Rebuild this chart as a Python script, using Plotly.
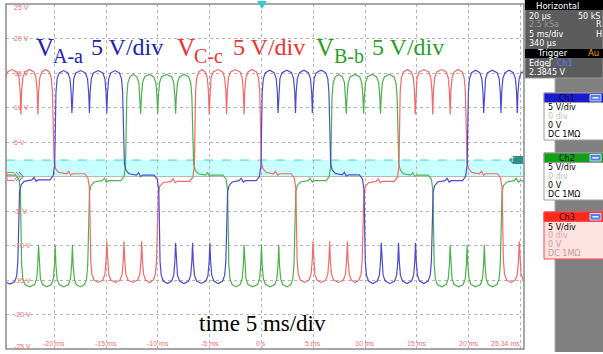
import plotly.graph_objects as go

# ---------------- data (time in ms, voltage in V) ----------------
X_RANGE = [-24.66, 25.34]
Y_RANGE = [-25, 25]
TRIG_LEVEL = 2.3845

# Phase A-a (blue)
blue_seg_start = [-30.0, -23.45, -19.91, -13.33, -9.86, -3.37, 0.00, 6.58, 9.95, 16.47, 19.90]
blue_seg_state = ["L", "ZL", "H", "ZH", "L", "ZL", "H", "ZH", "L", "ZL", "H"]
blue_seg_level = [-15.6, -0.5, 15.35, 0.2, -15.5, -0.6, 15.4, 0.25, -15.5, -0.6, 15.4]
blue_seg_notch = [[-28.4, -26.8, -25.1], [], [-18.30, -16.61, -14.93], [], [-8.29, -6.65, -4.98], [],
                  [1.60, 3.28, 4.91], [], [11.56, 13.23, 14.87], [], [21.45, 23.12, 24.69]]
blue_end = 26.6
blue_notch_hi, blue_notch_lo = 9.2, -9.6

# Phase B-b (green)
green_seg_start = [-27.0, -23.22, -16.70, -13.07, -6.65, -3.22, 3.21, 6.74, 13.16, 16.60, 23.12]
green_seg_state = ["ZH", "L", "ZL", "H", "ZH", "L", "ZL", "H", "ZH", "L", "ZL"]
green_seg_level = [0.2, -16.0, -0.6, 14.8, 0.2, -16.0, -0.6, 14.8, 0.2, -16.0, -0.6]
green_seg_notch = [[], [-21.52, -19.91, -18.25], [], [-11.66, -10.02, -8.29], [], [-1.68, 0.00, 1.67], [],
                   [8.19, 9.86, 11.49], [], [18.21, 19.85, 21.51], []]
green_end = 26.6
green_notch_hi, green_notch_lo = 9.1, -9.9

# Phase C-c (red)
red_seg_start = [-26.7, -20.11, -16.55, -10.06, -6.43, -0.10, 3.37, 9.79, 13.32, 19.75, 23.28]
red_seg_state = ["H", "ZH", "L", "ZL", "H", "ZH", "L", "ZL", "H", "ZH", "L"]
red_seg_level = [15.5, 0.4, -15.35, -0.7, 15.5, 0.4, -15.35, -0.7, 15.5, 0.4, -15.35]
red_seg_notch = [[-24.9, -23.22, -21.58], [], [-14.93, -13.27, -11.56], [], [-5.05, -3.37, -1.68], [],
                 [4.97, 6.58, 8.29], [], [14.84, 16.53, 18.21], [], [24.88]]
red_end = 29.8
red_notch_hi, red_notch_lo = 9.0, -9.4

y_tick_vals = [25, 20, 15, 10, 5, -5, -10, -15, -20, -25]
y_tick_text = ["25 V", "20 V", "15 V", "10 V", "5 V", "-5 V", "-10 V", "-15 V", "-20 V", "-25 V"]
x_tick_vals = [-20, -15, -10, -5, 0, 5, 10, 15, 20]
x_tick_text = ["-20 ms", "-15 ms", "-10 ms", "-5 ms", "0 s", "5 ms", "10 ms", "15 ms", "20 ms"]
x_end_text = "25.34 ms"

# ---------------- geometry / style ----------------
W, H = 603, 354
L_PX, R_PX, T_PX, B_PX = 6, 524, 4, 349
BLUE, GREEN, RED = "#4b4bd2", "#4db24d", "#f46a6a"
TBLUE, TGREEN, TRED = "#2222b4", "#2a9f2a", "#f23030"
LBL = "#ff6a6a"


def xp(px):
    return (px - L_PX) / (R_PX - L_PX)


def yp(py):
    return (B_PX - py) / (B_PX - T_PX)


def build(starts, states, levels, notches, end, n_hi, n_lo):
    ts, vs = [], []

    def add(t, v):
        ts.append(t)
        vs.append(v)

    n = len(starts)
    for i in range(n):
        a = starts[i]
        b = starts[i + 1] if i + 1 < n else end
        st, lv = states[i], levels[i]
        if st in ("H", "L"):
            s_ = 1 if st == "H" else -1
            dip = n_hi if st == "H" else n_lo
            bounds = [a] + list(notches[i]) + [b]
            for k in range(len(bounds) - 1):
                s, e = bounds[k], bounds[k + 1]
                add(s + 0.07, lv - s_ * 3.2)
                add(s + 0.18, lv - s_ * 1.2)
                add(s + 0.38, lv - s_ * 0.35)
                add((s + e) / 2, lv)
                add(e - 0.38, lv - s_ * 0.35)
                add(e - 0.18, lv - s_ * 1.2)
                add(e - 0.07, lv - s_ * 3.2)
                if k < len(bounds) - 2:
                    add(e, dip)
        else:
            s_ = 1 if st == "ZH" else -1
            add(a + 0.03, lv + s_ * 3.5)
            add(a + 0.10, lv + s_ * 1.6)
            add(a + 0.25, lv + s_ * 0.7)
            add(a + 0.55, lv + s_ * 0.2)
            m = a + 0.45 * (b - a)
            add(m - 0.3, lv)
            add(m - 0.1, lv + 0.35)
            add(m + 0.1, lv - 0.2)
            add(m + 0.3, lv)
            add(b - 0.5, lv)
            add(b - 0.2, lv - s_ * 0.6)
            add(b - 0.05, lv - s_ * 2.2)
    return ts, vs


fig = go.Figure()
for name, col, args in [
    ("V B-b", GREEN, (green_seg_start, green_seg_state, green_seg_level, green_seg_notch, green_end, green_notch_hi, green_notch_lo)),
    ("V C-c", RED, (red_seg_start, red_seg_state, red_seg_level, red_seg_notch, red_end, red_notch_hi, red_notch_lo)),
    ("V A-a", BLUE, (blue_seg_start, blue_seg_state, blue_seg_level, blue_seg_notch, blue_end, blue_notch_hi, blue_notch_lo)),
]:
    t, v = build(*args)
    fig.add_trace(go.Scatter(x=t, y=v, mode="lines", name=name,
                             line=dict(color=col, width=1.2), hoverinfo="skip"))

shapes = []
ann = []

# trigger band and level line
shapes.append(dict(type="rect", xref="x", yref="y", x0=X_RANGE[0], x1=X_RANGE[1], y0=0, y1=TRIG_LEVEL,
                   fillcolor="#c8ffff", line=dict(width=0), layer="below"))
shapes.append(dict(type="line", xref="x", yref="y", x0=X_RANGE[0], x1=X_RANGE[1], y0=TRIG_LEVEL, y1=TRIG_LEVEL,
                   line=dict(color="#3cd4e6", width=1, dash="dash"), layer="below"))
# frame
shapes.append(dict(type="rect", xref="paper", yref="paper", x0=0, x1=1, y0=0, y1=1,
                   line=dict(color="#8a8a8a", width=1.5)))
# top trigger position marker
shapes.append(dict(type="path", xref="paper", yref="paper",
                   path=f"M {xp(257)},{yp(1)} L {xp(267)},{yp(1)} L {xp(262)},{yp(9)} Z",
                   fillcolor="#38c8e0", line=dict(width=0)))
# right trigger level marker
shapes.append(dict(type="path", xref="paper", yref="paper",
                   path=f"M {xp(523)},{yp(156)} L {xp(513)},{yp(156)} L {xp(509)},{yp(160)} L {xp(513)},{yp(164)} L {xp(523)},{yp(164)} Z",
                   fillcolor="#2f8f8f", line=dict(width=0)))
ann.append(dict(x=xp(517), y=yp(160), xref="paper", yref="paper", text="T", showarrow=False,
                font=dict(family="DejaVu Sans", size=7, color="white")))
# channel ground markers (left)
shapes.append(dict(type="path", xref="paper", yref="paper",
                   path=f"M {xp(7)},{yp(172.5)} L {xp(14)},{yp(172.5)} L {xp(17)},{yp(176.5)} L {xp(14)},{yp(180.5)} L {xp(7)},{yp(180.5)} Z",
                   fillcolor="rgba(0,0,0,0)", line=dict(color=RED, width=1)))
shapes.append(dict(type="path", xref="paper", yref="paper",
                   path=f"M {xp(16)},{yp(172)} L {xp(20)},{yp(176.5)} L {xp(16)},{yp(181)}",
                   line=dict(color=GREEN, width=1)))
shapes.append(dict(type="path", xref="paper", yref="paper",
                   path=f"M {xp(19)},{yp(172)} L {xp(23)},{yp(176.5)} L {xp(19)},{yp(181)}",
                   line=dict(color=BLUE, width=1)))

# axis labels inside the graticule
for v, s in zip(y_tick_vals, y_tick_text):
    shift = -3 if v == 25 else (3 if v == -25 else 0)
    ann.append(dict(x=xp(12), y=v, xref="paper", yref="y", text=s, showarrow=False, xanchor="left",
                    yanchor="middle", yshift=shift, font=dict(family="Liberation Sans", size=7, color=LBL)))
for v, s in zip(x_tick_vals, x_tick_text):
    ann.append(dict(x=v, y=yp(343), xref="x", yref="paper", text=s, showarrow=False, xanchor="center",
                    yanchor="middle", font=dict(family="Liberation Sans", size=7, color=LBL)))
ann.append(dict(x=xp(522), y=yp(343), xref="paper", yref="paper", text=x_end_text, showarrow=False,
                xanchor="right", yanchor="middle", font=dict(family="Liberation Sans", size=7, color=LBL)))

# big serif labels
SERIF = "Liberation Serif"
for (xv, xs, xd, sub, col) in [(34, 51, 89, "A-a", TBLUE), (175, 192, 231, "C-c", TRED), (314, 332, 370, "B-b", TGREEN)]:
    ann.append(dict(x=xp(xv), y=yp(47), xref="paper", yref="paper", text="V", showarrow=False,
                    xanchor="left", yanchor="middle", font=dict(family=SERIF, size=25, color=col)))
    ann.append(dict(x=xp(xs), y=yp(56), xref="paper", yref="paper", text=sub, showarrow=False,
                    xanchor="left", yanchor="middle", font=dict(family=SERIF, size=20, color=col)))
    ann.append(dict(x=xp(xd), y=yp(47), xref="paper", yref="paper", text="5 V/div", showarrow=False,
                    xanchor="left", yanchor="middle", font=dict(family=SERIF, size=24, color=col)))
ann.append(dict(x=xp(197), y=yp(323), xref="paper", yref="paper", text="time 5 ms/div", showarrow=False,
                xanchor="left", yanchor="middle", font=dict(family=SERIF, size=23, color="black")))

# ---------------- right-hand instrument panel ----------------
SANS = "DejaVu Sans"


def rect(x0, y0, x1, y1, fill, line=None, lw=0):
    shapes.append(dict(type="rect", xref="paper", yref="paper", x0=xp(x0), x1=xp(x1), y0=yp(y1), y1=yp(y0),
                       fillcolor=fill, line=dict(color=line or fill, width=lw)))


def txt(x, y, s, color="white", size=8, anchor="left"):
    ann.append(dict(x=xp(x), y=yp(y), xref="paper", yref="paper", text=s, showarrow=False,
                    xanchor=anchor, yanchor="middle", font=dict(family=SANS, size=size, color=color)))


rect(555, 78, 603, 352, "#808080")
shapes.append(dict(type="line", xref="paper", yref="paper", x0=xp(555), x1=xp(555), y0=yp(352), y1=yp(78),
                   line=dict(color="#a8a8a8", width=1)))
# Horizontal box
rect(525, 0, 603, 78, "#5c5c5c", "#9a9a9a", 1)
rect(525, 0, 603, 10, "#000000")
txt(557, 6, "Horizontal", size=8.5, anchor="center")
txt(576, 16, "50 kS")
txt(527, 16, "20 µs")
txt(527, 25, "2.5 kSa", color="#9a9a9a")
txt(594, 25, "R")
txt(527, 34, "5 ms/div")
txt(594, 34, "H")
txt(527, 43, "340 µs")
rect(525, 49, 603, 58, "#000000")
txt(552, 53.5, "Trigger", size=8.5, anchor="center")
txt(601, 53.5, "Au", color="#f0a000", size=8.5, anchor="right")
txt(527, 63, "Edge")
shapes.append(dict(type="path", xref="paper", yref="paper",
                   path=f"M {xp(547)},{yp(66)} L {xp(550)},{yp(66)} L {xp(550)},{yp(59)} L {xp(553)},{yp(59)}",
                   line=dict(color="white", width=1)))
txt(555, 63, "Ch1", color="#5a78ff")
txt(527, 72, "2.3845 V")

# channel boxes
for (y0, hdr, body, border, name, cols) in [
    (93, "#1a1ad0", "#ffffff", "#9a9a9a", "Ch1", ["#000000", "#c0c0c0", "#000000", "#000000"]),
    (153, "#14a014", "#ffffff", "#9a9a9a", "Ch2", ["#000000", "#c0c0c0", "#000000", "#000000"]),
    (212, "#ff2a1e", "#ffe2e2", "#ff4a4a", "Ch3", ["#000000", "#d8a8a8", "#c89a9a", "#c89a9a"]),
]:
    rect(544, y0, 604, y0 + 47, body, border, 1)
    rect(544, y0, 604, y0 + 9.5, hdr, border, 1)
    txt(567, y0 + 5, name, color="#101010", size=8, anchor="center")
    rect(590, y0 + 1.5, 601, y0 + 8, "#4d7fe8", "#c8d8ff", 1)
    shapes.append(dict(type="line", xref="paper", yref="paper", x0=xp(592.5), x1=xp(598.5),
                       y0=yp(y0 + 4.8), y1=yp(y0 + 4.8), line=dict(color="white", width=1.5)))
    for k, s in enumerate(["5 V/div", "0 div", "0 V", "DC 1MΩ"]):
        txt(546, y0 + 15 + 8.8 * k, s, color=cols[k])

fig.update_layout(
    width=W, height=H,
    margin=dict(l=L_PX, r=W - R_PX, t=T_PX, b=H - B_PX, pad=0),
    paper_bgcolor="white", plot_bgcolor="white",
    showlegend=False,
    xaxis=dict(range=X_RANGE, tick0=0, dtick=5, showgrid=True, gridcolor="#b4b4b4", griddash="dot",
               gridwidth=1, zeroline=False, showticklabels=False, ticks="", showline=False, fixedrange=True),
    yaxis=dict(range=Y_RANGE, tick0=0, dtick=5, showgrid=True, gridcolor="#b4b4b4", griddash="dot",
               gridwidth=1, zeroline=True, zerolinecolor="#b8b8b8", zerolinewidth=1,
               showticklabels=False, ticks="", showline=False, fixedrange=True),
    shapes=shapes, annotations=ann,
)

fig.write_html(
    "out.html",
    config={"displayModeBar": False, "staticPlot": True},
    post_script="document.body.style.margin='0';document.body.style.padding='0';document.body.style.overflow='hidden';",
)
